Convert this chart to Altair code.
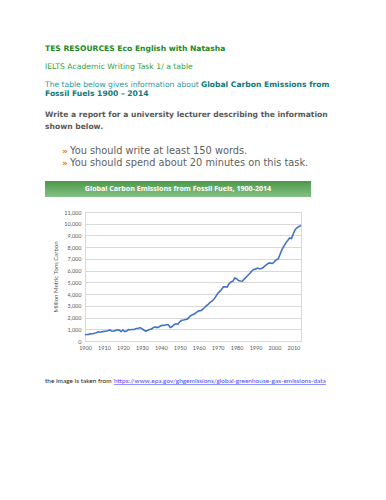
import altair as alt
import pandas as pd

# ---- data ----
years = list(range(1900, 2015))
emissions = [
    534, 552, 566, 617, 624, 663, 707, 784, 750, 785,
    819, 836, 879, 943, 850, 838, 901, 955, 936, 806,
    932, 803, 845, 970, 963, 975, 983, 1062, 1065, 1145,
    1053, 940, 847, 893, 973, 1027, 1130, 1209, 1142, 1192,
    1299, 1334, 1342, 1391, 1383, 1160, 1238, 1392, 1469, 1419,
    1630, 1767, 1795, 1841, 1865, 2042, 2177, 2270, 2330, 2454,
    2569, 2580, 2686, 2833, 2995, 3130, 3288, 3393, 3566, 3780,
    4053, 4208, 4376, 4614, 4623, 4596, 4864, 5026, 5087, 5369,
    5315, 5152, 5113, 5094, 5280, 5439, 5607, 5752, 5965, 6097,
    6127, 6217, 6164, 6162, 6266, 6398, 6542, 6651, 6643, 6610,
    6765, 6927, 6996, 7416, 7807, 8093, 8370, 8566, 8783, 8740,
    9167, 9508, 9673, 9776, 9855,
]
x_ticks = list(range(1900, 2011, 10))
y_ticks = list(range(0, 11001, 1000))

header = "TES RESOURCES Eco English with Natasha"
task = "IELTS Academic Writing Task 1/ a table"
intro_plain = "The table below gives information about"
intro_bold_1 = "Global Carbon Emissions from"
intro_bold_2 = "Fossil Fuels 1900 \u2013 2014"
instr_1 = "Write a report for a university lecturer describing the information"
instr_2 = "shown below."
bullets = ["You should write at least 150 words.",
           "You should spend about 20 minutes on this task."]
chart_title = "Global Carbon Emissions from Fossil Fuels, 1900-2014"
y_title = "Million Metric Tons Carbon"
source_plain = "the image is taken from"
source_link = "https://www.epa.gov/ghgemissions/global-greenhouse-gas-emissions-data"

df = pd.DataFrame({"year": years, "value": emissions})

# plot origin on the page is at (85, 212); annotation offsets are relative to it
OX, OY = 85, 212


def txt(s, px, py, size, color, weight="normal", font="DejaVu Sans", align="left"):
    return alt.Chart(pd.DataFrame({"t": [s]})).mark_text(
        align=align, baseline="middle", fontSize=size, color=color,
        fontWeight=weight, font=font,
    ).encode(text="t:N", x=alt.value(px - OX), y=alt.value(py - OY))


line = alt.Chart(df).mark_line(color="#4472C4", strokeWidth=1.6).encode(
    x=alt.X("year:Q", scale=alt.Scale(domain=[1900, 2014], nice=False, zero=False),
            axis=alt.Axis(values=x_ticks, format="d", title=None, grid=False,
                          ticks=False, domain=False, labelFontSize=5.5,
                          labelColor="#595959", labelFont="Lato", labelPadding=4,
                          labelOverlap=False, labelFlush=False)),
    y=alt.Y("value:Q", scale=alt.Scale(domain=[0, 11000], nice=False),
            axis=alt.Axis(values=y_ticks, format=",.0f", title=y_title, grid=True,
                          gridColor="#d9d9d9", ticks=False, domain=False,
                          labelFontSize=5.5, labelColor="#595959", labelFont="Lato",
                          labelPadding=4, labelOverlap=False, labelFlush=False,
                          titleFontSize=6, titleColor="#595959",
                          titleFont="Lato", titleFontWeight="normal",
                          titlePadding=5)),
)

banner = alt.Chart(pd.DataFrame({"a": [0]})).mark_rect(
    color=alt.Gradient(
        gradient="linear", x1=0, x2=0, y1=0, y2=1,
        stops=[alt.GradientStop(color="#4c984c", offset=0),
               alt.GradientStop(color="#84c184", offset=1)],
    )
).encode(x=alt.value(45 - OX), x2=alt.value(311 - OX),
         y=alt.value(181 - OY), y2=alt.value(197 - OY))

underline = alt.Chart(pd.DataFrame({"a": [0]})).mark_rule(
    color="#4a4aff", strokeWidth=0.6
).encode(x=alt.value(114 - OX), x2=alt.value(326 - OX), y=alt.value(384.5 - OY))

layers = [
    banner,
    line,
    txt(header, 45, 49, 7.6, "#1e8a1e", "bold"),
    txt(task, 45, 67, 7.7, "#3aa03a"),
    txt(intro_plain, 45, 85, 7.6, "#2a9a9a"),
    txt(intro_bold_1, 201, 85, 7.6, "#0e7a7a", "bold"),
    txt(intro_bold_2, 45, 94, 7.6, "#0e7a7a", "bold"),
    txt(instr_1, 45, 115, 7.6, "#595959", "bold"),
    txt(instr_2, 45, 127, 7.6, "#595959", "bold"),
    txt("\u00bb", 62, 151, 9, "#f07f1e", "bold"),
    txt(bullets[0], 70, 151, 9.8, "#606060"),
    txt("\u00bb", 62, 163, 9, "#f07f1e", "bold"),
    txt(bullets[1], 70, 163, 9.8, "#606060"),
    txt(chart_title, 178, 188.5, 7.1, "#ffffff", "bold", "Open Sans", "center"),
    txt(source_plain, 45, 381, 6.5, "#1a1a1a", "normal", "Lato"),
    txt(source_link, 114, 381, 6.5, "#4a4aff", "normal", "Lato"),
    underline,
]

chart = alt.layer(*layers).properties(
    width=216, height=129,
    autosize=alt.AutoSizeParams(type="none"),
    padding={"left": 77, "top": 204, "right": 77, "bottom": 150},
    background="#ffffff",
).configure_view(stroke="#d9d9d9", strokeWidth=1)

chart.save("out.html", embed_options={"renderer": "svg", "actions": False})
